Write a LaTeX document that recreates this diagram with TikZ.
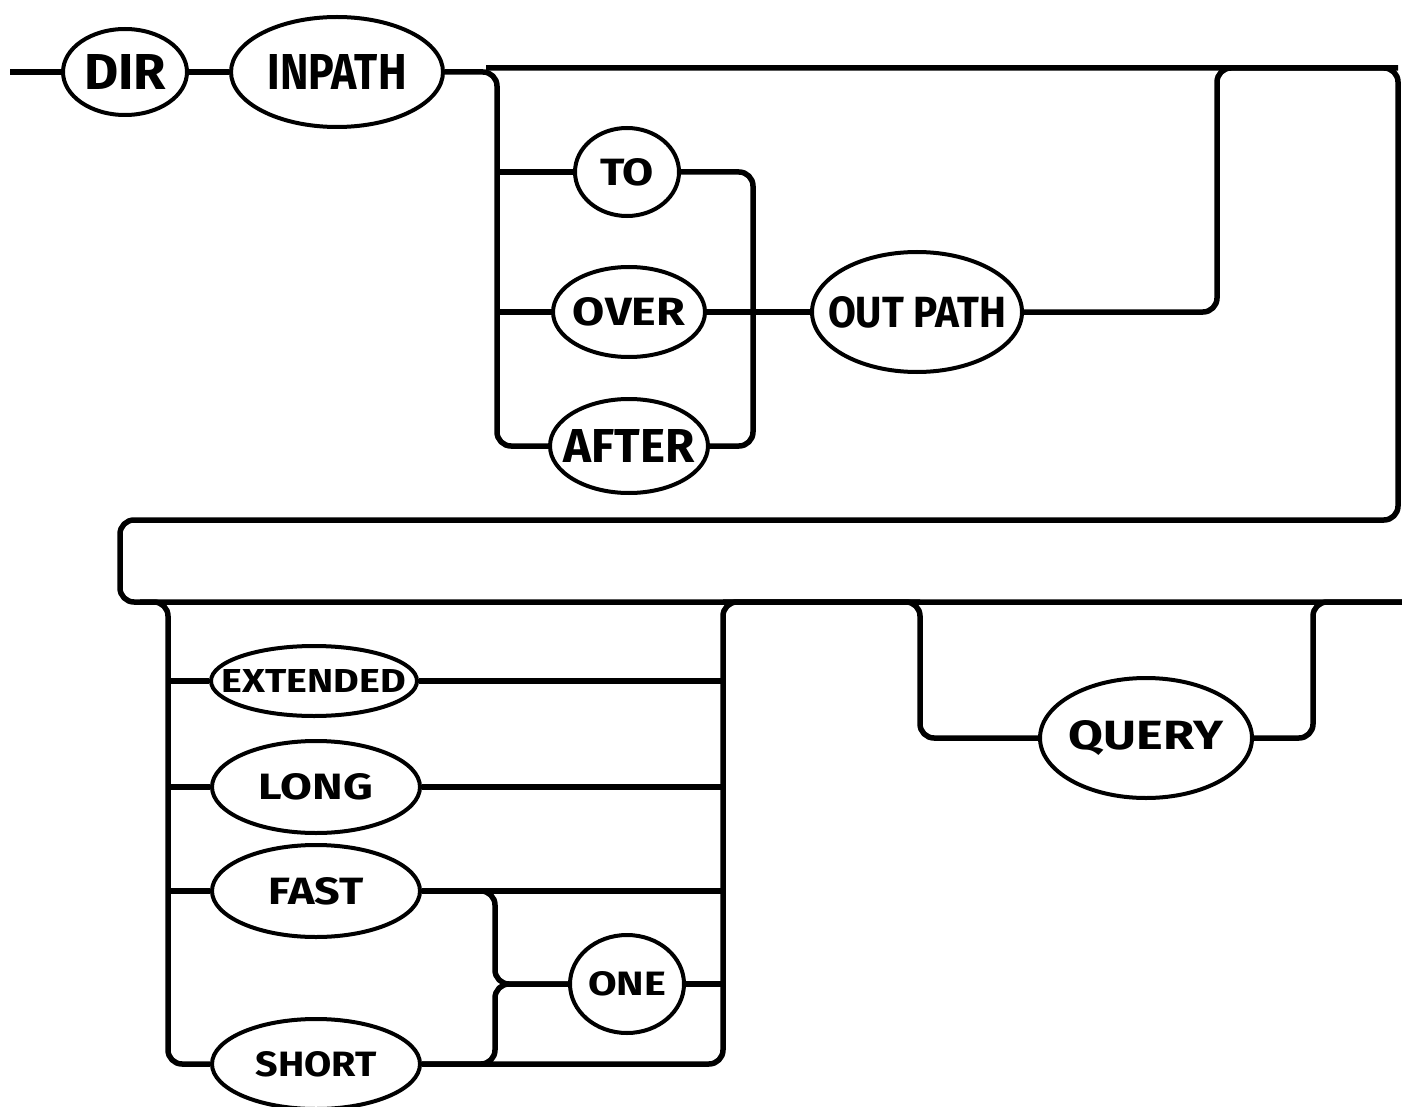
\documentclass[tikz,border=0pt]{standalone}
\usepackage{fontspec}
\setsansfont{Fira Sans}
\usepackage{graphicx}
\usetikzlibrary{shapes.geometric}
\newcommand{\kw}[3]{\makebox[0pt]{\resizebox{#1pt}{#2pt}{\sffamily\bfseries #3}}}

\begin{document}
\begin{tikzpicture}[
      x=1pt, y=-1pt,
      term/.style={ellipse, draw, line width=4pt, inner sep=0pt, fill=white},
      rail/.style={line width=5.5pt, rounded corners=14pt, line join=round}
    ]
      \useasboundingbox (0,0) rectangle (1402,1107);
      \node[term, minimum width=124pt, minimum height=86pt] (dir) at (125,72) {\kw{82}{35}{DIR}};
      \node[term, minimum width=212pt, minimum height=110pt] (inpath) at (337,72) {\kw{139}{35}{INPATH}};
      \node[term, minimum width=104pt, minimum height=88pt] (to) at (627,172) {\kw{54}{27}{TO}};
      \node[term, minimum width=152pt, minimum height=90pt] (over) at (629,312) {\kw{112}{28}{OVER}};
      \node[term, minimum width=158pt, minimum height=94pt] (after) at (629,446) {\kw{131}{33}{AFTER}};
      \node[term, minimum width=210pt, minimum height=120pt] (outpath) at (917,312) {\kw{178}{31}{OUT PATH}};
      \node[term, minimum width=206pt, minimum height=70pt] (extended) at (314,681) {\kw{184}{23}{EXTENDED}};
      \node[term, minimum width=208pt, minimum height=92pt] (long) at (316,787) {\kw{114}{26}{LONG}};
      \node[term, minimum width=208pt, minimum height=92pt] (fast) at (316,891) {\kw{95}{27}{FAST}};
      \node[term, minimum width=208pt, minimum height=90pt] (short) at (316,1064) {\kw{121}{25}{SHORT}};
      \node[term, minimum width=114pt, minimum height=98pt] (one) at (627,984) {\kw{78}{24}{ONE}};
      \node[term, minimum width=212pt, minimum height=120pt] (query) at (1146,738) {\kw{154}{29}{QUERY}};

      \coordinate (start) at (10,72);
      \coordinate (topL) at (486,68);
      \coordinate (splitA) at (497,68);
      \coordinate (joinA) at (753,68);
      \coordinate (joinB) at (1217,68);
      \coordinate (edge) at (1398,68);
      \coordinate (retR) at (1398,520);
      \coordinate (retL) at (120,520);
      \coordinate (lowL) at (120,602);
      \coordinate (lowM) at (140,602);
      \coordinate (lowR) at (1410,602);
      \coordinate (splitB) at (168,602);
      \coordinate (joinC) at (723,602);
      \coordinate (splitC) at (495,890);
      \coordinate (splitQ) at (920,602);
      \coordinate (joinQ) at (1313,602);

      \draw[rail] (start) -- (dir.west);
      \draw[rail] (dir.east) -- (inpath.west);
      \draw[rail] (inpath.east) -| (splitA |- after) -- (after.west);
      \draw[rail] (topL) -- (edge) -- (retR) -- (retL) -- (lowL) -- (lowR);
      \draw[rail] (splitA |- to) -- (to.west);
      \draw[rail] (splitA |- over) -- (over.west);
      \draw[rail] (to.east) -| (joinA |- after) -- (after.east);
      \draw[rail] (over.east) -- (outpath.west);
      \draw[rail] (outpath.east) -| (joinB) -- (edge);

      \draw[rail] (lowM) -| (splitB |- short) -- (short.west);
      \draw[rail] (splitB |- extended) -- (extended.west);
      \draw[rail] (splitB |- long) -- (long.west);
      \draw[rail] (splitB |- fast) -- (fast.west);
      \draw[rail] (short.east) -| (joinC) -- (splitQ);
      \draw[rail] (extended.east) -- (joinC |- extended);
      \draw[rail] (long.east) -- (joinC |- long);
      \draw[rail] (fast.east) -- (joinC |- fast);
      \draw[rail] (fast.east) -| (splitC |- one) -- (one.west);
      \draw[rail] (short.east) -| (splitC |- one) -- (one.west);
      \draw[rail] (one.east) -- (joinC |- one);

      \draw[rail] (joinC) -| (splitQ |- query) -- (query.west);
      \draw[rail] (query.east) -| (joinQ) -- (lowR);
    \end{tikzpicture}
\end{document}
